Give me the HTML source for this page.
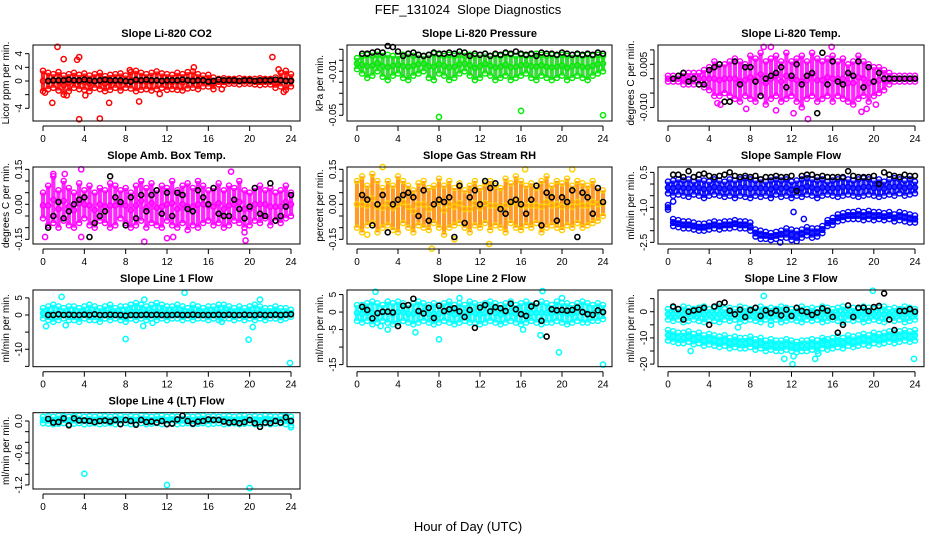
<!DOCTYPE html>
<html><head><meta charset="utf-8"><style>
html,body{margin:0;padding:0;background:#fff;}
svg{display:block;font-family:"Liberation Sans",sans-serif;}
</style></head><body>
<svg id="chart" width="936" height="540" viewBox="0 0 936 540">
<text x="468" y="14" text-anchor="middle" font-size="13">FEF_131024&#160; Slope Diagnostics</text>
<text x="468" y="531" text-anchor="middle" font-size="13">Hour of Day (UTC)</text>
</svg>
<script>
const bandHours=[0,0.5,1,1.5,2,2.5,3,3.5,4,4.5,5,5.5,6,6.5,7,7.5,8,8.5,9,9.5,10,10.5,11,11.5,12,12.5,13,13.5,14,14.5,15,15.5,16,16.5,17,17.5,18,18.5,19,19.5,20,20.5,21,21.5,22,22.5,23,23.5,24];
const blackHours=[0.5,1,1.5,2,2.5,3,3.5,4,4.5,5,5.5,6,6.5,7,7.5,8,8.5,9,9.5,10,10.5,11,11.5,12,12.5,13,13.5,14,14.5,15,15.5,16,16.5,17,17.5,18,18.5,19,19.5,20,20.5,21,21.5,22,22.5,23,23.5,24];
const xTicks=[0,4,8,12,16,20,24];

const co2Hi=[1.5,1.2,1.0,1.3,0.8,1.0,1.2,0.9,1.1,0.8,1.0,1.2,0.7,0.9,1.0,1.1,0.8,1.3,1.5,1.2,1.0,1.2,1.4,1.1,1.0,0.9,1.2,1.0,1.3,1.4,1.0,0.8,0.9,0.5,0.3,0.4,0.3,0.3,0.4,0.3,0.3,0.3,0.4,0.3,0.3,0.5,1.2,1.5,1.0];
const co2Lo=[-1.5,-1.2,-1.0,-1.4,-2.0,-1.5,-1.0,-1.2,-1.3,-1.5,-1.0,-1.2,-1.5,-1.3,-1.0,-1.4,-1.0,-1.1,-1.5,-1.3,-1.2,-1.4,-1.2,-1.0,-1.3,-1.2,-1.3,-1.4,-1.1,-1.0,-1.2,-0.8,-0.8,-1.2,-0.5,-0.6,-0.4,-0.4,-0.5,-0.4,-0.4,-0.5,-0.6,-0.5,-0.5,-1.0,-0.8,-1.3,-0.8];
const co2OutH=[1.4,0.2,0.9,3.5,5.5,6.4,9.3,4.1,3.3,3.5,2.0,14.6,22.2,23.3,22.8,8.4,11.3,17.3,2.3];
const co2OutV=[5,-1.7,-3.2,-5.6,-5.5,-3.2,-3,-2.1,3.1,3.5,3.2,2,3.5,-1.6,1.7,1.6,-1.9,-1.2,-2.1];
const co2Black=[0,0.1,0.1,0.1,0.2,0.1,0.1,0.2,0.1,0,0.1,0.2,0.1,0.1,0.1,0,-0.1,0.2,0.1,0.2,0.1,0.1,0,0.1,0.1,0.1,0.2,0.1,0,0.1,0.1,-0.1,0,0.2,0.1,0.1,0.1,0,0.1,0.1,0,0.1,0.1,0.1,0.2,0.1,0,0];

const presHi=[0.002,0.004,0.005,0.004,0.005,0.004,0.005,0.004,0.004,0.005,0.006,0.004,0.005,0.004,0.005,0.006,0.005,0.004,0.005,0.004,0.005,0.004,0.005,0.004,0.005,0.006,0.004,0.005,0.004,0.006,0.005,0.004,0.005,0.004,0.005,0.006,0.005,0.004,0.005,0.004,0.005,0.004,0.005,0.005,0.004,0.005,0.004,0.005,0.004];
const presLo=[-0.008,-0.012,-0.016,-0.014,-0.010,-0.015,-0.018,-0.014,-0.012,-0.016,-0.018,-0.014,-0.012,-0.010,-0.016,-0.018,-0.012,-0.014,-0.018,-0.016,-0.012,-0.010,-0.014,-0.018,-0.016,-0.012,-0.014,-0.018,-0.016,-0.014,-0.018,-0.016,-0.014,-0.012,-0.016,-0.018,-0.014,-0.016,-0.018,-0.016,-0.014,-0.018,-0.016,-0.014,-0.016,-0.018,-0.014,-0.012,-0.010];
const presOutH=[8,16,24];
const presOutV=[-0.0515,-0.046,-0.05];
const presBlack=[0.006,0.006,0.007,0.008,0.007,0.013,0.012,0.008,0.004,0.006,0.007,0.005,0.004,0.005,0.007,0.006,0.006,0.007,0.006,0.008,0.007,0.004,0.006,0.005,0.006,0.004,0.006,0.005,0.007,0.006,0.008,0.006,0.005,0.006,0.004,0.007,0.006,0.006,0.005,0.007,0.006,0.005,0.006,0.005,0.006,0.005,0.007,0.006];

const tempHi=[0.001,0.001,0.001,0.002,0.002,0.002,0.002,0.003,0.004,0.006,0.005,0.005,0.006,0.007,0.006,0.005,0.008,0.007,0.009,0.006,0.007,0.008,0.006,0.009,0.006,0.007,0.008,0.006,0.009,0.007,0.006,0.007,0.008,0.006,0.007,0.005,0.006,0.008,0.006,0.005,0.004,0.004,0.003,0.002,0.001,0.001,0.001,0.001,0.001];
const tempLo=[-0.001,-0.001,-0.001,-0.002,-0.002,-0.002,-0.002,-0.003,-0.004,-0.006,-0.006,-0.005,-0.006,-0.007,-0.008,-0.006,-0.007,-0.008,-0.006,-0.009,-0.007,-0.006,-0.008,-0.007,-0.006,-0.008,-0.010,-0.007,-0.006,-0.008,-0.007,-0.006,-0.008,-0.006,-0.007,-0.008,-0.009,-0.007,-0.006,-0.008,-0.006,-0.005,-0.004,-0.002,-0.001,-0.001,-0.001,-0.001,-0.001];
const tempOutH=[9.3,10,13.6,12.2,4.8,7.6,18.8,19.3,15.9,20.2,5.1,10.5];
const tempOutV=[0.011,0.011,-0.014,-0.012,-0.0085,-0.0105,-0.0115,-0.0105,0.011,-0.009,-0.009,-0.011];
const tempBlack=[0,0.001,0.002,-0.001,0,-0.002,-0.002,0.003,0.004,0.005,-0.008,-0.008,0.006,-0.002,0.004,0.004,-0.001,-0.006,0,0.001,0.002,0.004,-0.003,0.001,0.005,-0.002,0.001,0.002,-0.012,0.009,-0.002,0.006,-0.001,-0.002,0.002,0.001,0.006,-0.003,0.004,-0.001,0.002,0,0,0,0,0,0,0];

const ambHi=[0.05,0.08,0.12,0.06,0.1,0.07,0.05,0.09,0.06,0.08,0.05,0.07,0.06,0.09,0.08,0.06,0.07,0.05,0.08,0.1,0.07,0.09,0.06,0.08,0.07,0.1,0.06,0.08,0.09,0.07,0.1,0.08,0.06,0.07,0.09,0.06,0.08,0.07,0.1,0.06,0.05,0.07,0.08,0.06,0.07,0.05,0.06,0.08,0.05];
const ambLo=[-0.06,-0.09,-0.08,-0.1,-0.07,-0.09,-0.1,-0.08,-0.06,-0.09,-0.1,-0.07,-0.08,-0.1,-0.09,-0.06,-0.08,-0.1,-0.09,-0.07,-0.1,-0.08,-0.09,-0.1,-0.07,-0.09,-0.1,-0.08,-0.11,-0.09,-0.1,-0.08,-0.07,-0.09,-0.08,-0.1,-0.09,-0.07,-0.08,-0.1,-0.09,-0.07,-0.08,-0.06,-0.09,-0.07,-0.08,-0.06,-0.05];
const ambOutH=[0.2,1,2.1,3.7,9.8,12,12.6,19.6,19.5,3.7,18.2];
const ambOutV=[-0.14,0.13,0.13,0.15,-0.16,-0.145,-0.14,-0.155,-0.12,-0.14,0.14];
const ambBlack=[-0.1,-0.05,0.01,-0.06,-0.03,0,0.02,0.03,-0.14,-0.08,-0.05,-0.03,0.12,0.03,0.01,-0.09,0.03,-0.06,0.04,-0.03,0.04,0.06,-0.04,0.05,-0.05,0.05,0.04,-0.02,-0.03,0.06,0.03,0,0.07,-0.04,-0.05,-0.05,0.02,-0.02,-0.06,-0.01,0.07,-0.04,-0.05,0.09,-0.07,-0.05,-0.01,0.04];

const rhHi=[0.1,0.12,0.08,0.13,0.1,0.07,0.1,0.08,0.12,0.1,0.08,0.06,0.09,0.1,0.07,0.08,0.11,0.08,0.1,0.07,0.09,0.06,0.08,0.1,0.07,0.09,0.1,0.08,0.07,0.11,0.09,0.12,0.1,0.08,0.09,0.07,0.1,0.12,0.08,0.1,0.09,0.11,0.08,0.1,0.09,0.08,0.1,0.07,0.06];
const rhLo=[-0.1,-0.12,-0.09,-0.08,-0.12,-0.1,-0.09,-0.11,-0.12,-0.08,-0.1,-0.12,-0.09,-0.1,-0.11,-0.08,-0.1,-0.13,-0.1,-0.09,-0.08,-0.1,-0.12,-0.09,-0.1,-0.08,-0.11,-0.09,-0.1,-0.12,-0.08,-0.1,-0.11,-0.09,-0.1,-0.08,-0.12,-0.1,-0.09,-0.1,-0.11,-0.09,-0.1,-0.08,-0.1,-0.09,-0.08,-0.07,-0.05];
const rhOutH=[12.9,7.3,16.4,2.5,1,9.5,21];
const rhOutV=[-0.17,-0.19,0.15,0.16,-0.13,-0.15,0.15];
const rhBlack=[0.04,0.02,-0.09,0,0.04,-0.12,0,0.02,0.04,0.05,0.03,-0.05,0.06,-0.07,0,0.02,0.01,0.03,-0.14,0.08,-0.08,0.03,0.06,0,0.1,0.07,0.09,-0.02,-0.04,0.01,0.02,0,-0.04,0.02,0.08,-0.09,0.05,0.03,-0.07,0.03,0.01,0.06,-0.14,0.05,0.03,-0.04,0.07,0.01];

const sfHi=[0.1,0.15,0.2,0.15,0.2,0.1,0.2,0.15,0.1,0.2,0.15,0.1,0.2,0.15,0.2,0.25,0.2,0.15,0.2,0.1,0.15,0.2,0.15,0.2,0.1,0.15,0.2,0.25,0.2,0.15,0.2,0.1,0.15,0.2,0.25,0.2,0.15,0.2,0.25,0.2,0.15,0.2,0.1,0.2,0.25,0.2,0.15,0.2,0.1];
const sfLo=[-0.4,-0.5,-0.45,-0.5,-0.55,-0.45,-0.5,-0.6,-0.5,-0.45,-0.5,-0.55,-0.5,-0.6,-0.5,-0.55,-0.6,-0.5,-0.55,-0.5,-0.6,-0.45,-0.55,-0.5,-0.6,-0.5,-0.55,-0.45,-0.5,-0.6,-0.5,-0.45,-0.5,-0.55,-0.5,-0.45,-0.5,-0.55,-0.5,-0.45,-0.5,-0.55,-0.5,-0.45,-0.5,-0.4,-0.5,-0.45,-0.4];
const sf2Hi=[-0.9,-1.5,-1.55,-1.6,-1.6,-1.65,-1.7,-1.7,-1.65,-1.6,-1.65,-1.6,-1.6,-1.55,-1.6,-1.6,-1.65,-1.95,-2.0,-2.05,-2.1,-2.05,-2.0,-1.9,-1.95,-2.0,-1.95,-1.85,-1.9,-1.9,-1.8,-1.55,-1.45,-1.3,-1.25,-1.2,-1.2,-1.15,-1.2,-1.15,-1.2,-1.2,-1.25,-1.2,-1.3,-1.2,-1.25,-1.3,-1.35];
const sf2Lo=[-1.1,-1.8,-1.85,-1.9,-1.9,-1.95,-2.0,-2.0,-1.95,-1.9,-1.95,-1.9,-1.9,-1.85,-1.9,-1.9,-2.0,-2.25,-2.35,-2.35,-2.4,-2.35,-2.3,-2.3,-2.4,-2.45,-2.3,-2.2,-2.3,-2.25,-2.1,-1.8,-1.75,-1.6,-1.55,-1.5,-1.5,-1.5,-1.55,-1.5,-1.55,-1.5,-1.55,-1.5,-1.6,-1.55,-1.6,-1.65,-1.65];
const sfOutH=[0.5,12.2,13.2,10.9];
const sfOutV=[-0.75,-1.2,-1.5,-2.5];
const sfBlack=[0.4,0.4,0.3,0.55,0.3,0.4,0.45,0.35,0.3,0.35,0.4,0.5,0.35,0.3,0.35,0.3,0.35,0.2,0.3,0.3,0.35,0.3,0.3,0.35,-0.3,0.35,0.4,0.4,0.3,0.35,0.3,0.3,0.3,0.3,0.55,0.35,0.3,0.3,0.3,0.35,0,0.5,0.4,0.35,0.3,0.4,0.35,0.35];

const l1Hi=[2,2.5,3,2.5,2,2.5,2.5,2,2.5,3,2.5,2,2.5,3,2,2.5,2.5,3,3.5,3,2.5,3,3.5,3,2.5,2.5,3,2.5,2,3,2.5,2,2.5,2.5,3,3,2.5,2,2.5,2,2.5,3,2.5,2,2,2.5,2,2,1.5];
const l1Lo=[-1,-1.5,-2,-1.5,-1,-1.5,-1.5,-2,-1,-1.5,-1.5,-2,-1,-1.5,-1,-1.5,-2,-1,-1.5,-1,-1.5,-1,-1.5,-1,-1.5,-1,-1,-1.5,-1,-1.5,-1,-1,-1.5,-1,-1.5,-1,-1,-1.5,-1,-1.5,-1,-1.5,-1,-1.5,-1,-1,-1.5,-1,-0.5];
const l1OutH=[0.3,1.8,8,9.7,10.6,13.7,17.3,19.9,20.3,23.9,2.2,9.8,21];
const l1OutV=[-3.3,5.3,-7,-3.2,-2.3,6.5,-2,-7.2,-3.5,-14,-3,4.5,4.5];
const l1Black=[0,0,0.2,0,0.1,0,0,0.1,0,0.2,0,0,0.1,0,0,-0.2,0,0,0,0.1,0,0.1,0,0,0,0.1,0,0,0.1,0,0,0,0,0.1,0,0.1,0,0,0.1,0,0,0.1,0,0,0.1,0,0.1,0.2];

const l2Hi=[2,2,2.5,3,2.5,2,3,2.5,3,2.5,2,2.5,3,2.5,2,2.5,2,2.5,3,2,2.5,2,3,2.5,2,2.5,3,2.5,2,2.5,3,2,2.5,3,2,2.5,3,2.5,2,3,2.5,2.5,2,2.5,3,2.5,2,2.5,2];
const l2Lo=[-2.5,-3,-2.5,-3.5,-3,-2.5,-3,-3.5,-3,-2.5,-3,-3.5,-3,-2.5,-3,-3.5,-3,-2.5,-3,-3.5,-3,-2.5,-3,-3,-3.5,-3,-2.5,-3,-3.5,-3,-2.5,-3,-3.5,-3,-2.5,-3,-3.5,-3,-3,-2.5,-3,-3.5,-3,-2.5,-3,-3,-2.5,-2.5,-2];
const l2OutH=[1.8,3,5.7,8,16.2,17.9,18.1,19.7,24,2.3,10,20];
const l2OutV=[5.8,-5,-5.8,-7.8,-5,-6.6,6,-11.5,-15,-4,4,4];
const l2Black=[1.5,0.6,-1.8,-0.3,0.1,0.1,-0.1,-4,1.8,2,3.8,0.3,-0.4,1.2,-1.7,1.8,0.3,0.8,1.1,0.2,-1.4,0.6,-4.5,1.3,2,0.2,1.4,1.1,0.3,2.4,0.8,-0.6,-1.1,1.6,2.5,-2.5,-7,0.8,0.5,0.6,0.4,0.6,1.3,0,-0.6,-0.8,0.5,0];

const l3Hi=[1,1.5,1,2,1.5,1,1.5,2,1,1.5,2,1,1.5,1,2,1.5,1,1.5,2,1,1.5,1,2,1.5,1,1.5,2,1,1.5,1,2,1.5,1,1.5,2,1,1.5,1,2,1.5,1,1.5,2,1,1.5,1,2,1.5,1];
const l3Lo=[-3,-3.5,-3,-4,-3.5,-3,-3.5,-4,-3,-3.5,-4,-3,-3.5,-3,-4,-3.5,-3,-3.5,-4,-3,-3.5,-3,-4,-3.5,-3,-3.5,-4,-3,-3.5,-3,-4,-3.5,-3,-3.5,-4,-3,-3.5,-3,-4,-3.5,-3,-3.5,-4,-3,-3.5,-3,-4,-3.5,-3];
const l3bHi=[-7,-7.5,-8,-8,-7.5,-8.5,-8,-9,-8.5,-9,-9.5,-9,-10,-9.5,-10,-10,-9.5,-10.5,-10,-11,-10.5,-11,-11,-10.5,-11,-11.5,-11,-11,-10.5,-11,-10,-10.5,-10,-9.5,-10,-9,-9.5,-9,-8.5,-9,-8,-8.5,-8,-7.5,-8,-7.5,-7,-7.5,-7];
const l3bLo=[-11,-11.5,-12,-12,-11.5,-12.5,-12,-13,-12.5,-13,-13.5,-13,-14,-13.5,-14,-14,-13.5,-14.5,-14,-15,-14.5,-15,-15,-14.5,-15,-15.5,-15,-15,-14.5,-15,-14,-14.5,-14,-13.5,-14,-13,-13.5,-13,-12.5,-13,-12,-12.5,-12,-11.5,-12,-11.5,-11,-11.5,-11];
const l3OutH=[9.3,10,11.3,12.2,14.3,14.6,15.2,19.9,23.9,12.1,2.2,6.8];
const l3OutV=[6,-5,-18,-17,-18,-16,-11,8,-18,-20,-15,-6];
const l3Black=[2,1,-3,0,0.5,0.8,1.5,-5,2,3,3.5,0.4,-1,0.8,-2,0.6,1.5,-1.6,0.5,-0.5,0.4,-1.4,0.8,-1.6,1.5,0.3,-0.1,-1.2,-0.3,1.3,0.4,-2,-8,-5,2.4,-2,1.5,1.6,0.2,1.8,2.2,7,-3,-7,0.3,0.3,1,0];

const l4Hi=[0.08,0.09,0.08,0.1,0.09,0.08,0.09,0.1,0.08,0.09,0.08,0.1,0.09,0.08,0.09,0.1,0.08,0.09,0.08,0.1,0.09,0.08,0.09,0.1,0.08,0.09,0.08,0.1,0.09,0.08,0.09,0.1,0.08,0.09,0.08,0.1,0.09,0.08,0.09,0.1,0.08,0.09,0.08,0.1,0.09,0.08,0.09,0.1,0.08];
const l4Lo=[-0.04,-0.05,-0.06,-0.05,-0.04,-0.06,-0.05,-0.04,-0.06,-0.05,-0.04,-0.06,-0.05,-0.04,-0.06,-0.05,-0.04,-0.06,-0.05,-0.04,-0.06,-0.05,-0.04,-0.06,-0.05,-0.04,-0.06,-0.05,-0.04,-0.06,-0.05,-0.04,-0.06,-0.05,-0.04,-0.06,-0.05,-0.04,-0.06,-0.05,-0.04,-0.06,-0.05,-0.04,-0.06,-0.05,-0.04,-0.06,-0.08];
const l4OutH=[4,12,20,24];
const l4OutV=[-0.99,-1.2,-1.26,-0.12];
const l4Black=[0.04,-0.03,-0.02,0.05,-0.08,0.05,0.01,0.01,0,-0.02,0,0.01,-0.01,0.02,-0.06,0.02,0,-0.07,0.02,-0.02,-0.01,-0.03,0,-0.06,-0.05,0.03,0.1,0,-0.05,-0.01,0,0.03,0.02,0.02,-0.01,-0.03,-0.02,-0.04,-0.02,0.02,-0.04,-0.11,-0.03,-0.04,0,-0.03,0.07,0];

const colL=[33,347,658], colR=[300,612,924];
const rowT=[45,167,290,412.7], rowB=[121,244,366.7,489];
const panels=[
 {name:'co2',title:'Slope Li-820 CO2',ylab:'Licor ppm per min.',r:0,c:0,ymin:-5.86,ymax:5.27,ticks:[4,2,0,-2,-4],labels:['4','2','0','','-4'],col:'#ff0000',edge:'#ff0000',bands:[[co2Lo,co2Hi]],oh:co2OutH,ov:co2OutV,bk:co2Black},
 {name:'pressure',title:'Slope Li-820 Pressure',ylab:'kPa per min.',r:0,c:1,ymin:-0.0552,ymax:0.0139,ticks:[0.01,0,-0.01,-0.02,-0.03,-0.04,-0.05],labels:['','','-0.01','','','','-0.05'],col:'#1ed01e',edge:'#00ee00',bands:[[presLo,presHi]],oh:presOutH,ov:presOutV,bk:presBlack},
 {name:'li820-temp',title:'Slope Li-820 Temp.',ylab:'degrees C per min.',r:0,c:2,ymin:-0.0147,ymax:0.0117,ticks:[0.01,0.005,0,-0.005,-0.01],labels:['','0.005','','','-0.010'],col:'#ff00ff',edge:'#ff00ff',bands:[[tempLo,tempHi]],oh:tempOutH,ov:tempOutV,bk:tempBlack},
 {name:'amb-box-temp',title:'Slope Amb. Box Temp.',ylab:'degrees C per min.',r:1,c:0,ymin:-0.170,ymax:0.160,ticks:[0.15,0.1,0.05,0,-0.05,-0.1,-0.15],labels:['0.15','','','0.00','','','-0.15'],col:'#ff00ff',edge:'#ff00ff',bands:[[ambLo,ambHi]],oh:ambOutH,ov:ambOutV,bk:ambBlack},
 {name:'gas-stream-rh',title:'Slope Gas Stream RH',ylab:'percent per min.',r:1,c:1,ymin:-0.170,ymax:0.160,ticks:[0.15,0.1,0.05,0,-0.05,-0.1,-0.15],labels:['0.15','','','0.00','','','-0.15'],col:'#ff8800',edge:'#ffd000',bands:[[rhLo,rhHi]],oh:rhOutH,ov:rhOutV,bk:rhBlack},
 {name:'sample-flow',title:'Slope Sample Flow',ylab:'ml/min per min.',r:1,c:2,ymin:-2.57,ymax:0.73,ticks:[0.5,0,-0.5,-1,-1.5,-2,-2.5],labels:['0.5','','','-1.0','','','-2.5'],col:'#0000ff',edge:'#0000ff',bands:[[sfLo,sfHi],[sf2Lo,sf2Hi]],oh:sfOutH,ov:sfOutV,bk:sfBlack},
 {name:'line1-flow',title:'Slope Line 1 Flow',ylab:'ml/min per min.',r:2,c:0,ymin:-15.1,ymax:7.3,ticks:[5,0,-5,-10,-15],labels:['5','0','','-10',''],col:'#00ffff',edge:'#00ffff',bands:[[l1Lo,l1Hi]],oh:l1OutH,ov:l1OutV,bk:l1Black},
 {name:'line2-flow',title:'Slope Line 2 Flow',ylab:'ml/min per min.',r:2,c:1,ymin:-15.6,ymax:6.3,ticks:[5,0,-5,-10,-15],labels:['5','0','-5','','-15'],col:'#00ffff',edge:'#00ffff',bands:[[l2Lo,l2Hi]],oh:l2OutH,ov:l2OutV,bk:l2Black},
 {name:'line3-flow',title:'Slope Line 3 Flow',ylab:'ml/min per min.',r:2,c:2,ymin:-21,ymax:8.3,ticks:[5,0,-5,-10,-15,-20],labels:['','0','','-10','','-20'],col:'#00ffff',edge:'#00ffff',bands:[[l3Lo,l3Hi],[l3bLo,l3bHi]],oh:l3OutH,ov:l3OutV,bk:l3Black},
 {name:'line4-flow',title:'Slope Line 4 (LT) Flow',ylab:'ml/min per min.',r:3,c:0,ymin:-1.276,ymax:0.156,ticks:[0,-0.2,-0.4,-0.6,-0.8,-1.0,-1.2],labels:['0.0','','','-0.6','','','-1.2'],col:'#00ffff',edge:'#00ffff',bands:[[l4Lo,l4Hi]],oh:l4OutH,ov:l4OutV,bk:l4Black}
];
const NS='http://www.w3.org/2000/svg';
const svg=document.getElementById('chart');
function mk(tag,attrs,parent,txt){const e=document.createElementNS(NS,tag);for(const k in attrs)e.setAttribute(k,attrs[k]);if(txt!==undefined)e.textContent=txt;parent.appendChild(e);return e;}
panels.forEach(p=>{
  const L=colL[p.c],R=colR[p.c],T=rowT[p.r],B=rowB[p.r];
  const x0=L+10,x1=R-9;
  const xs=h=>x0+(h/24)*(x1-x0);
  const ys=v=>B-(v-p.ymin)/(p.ymax-p.ymin)*(B-T);
  const g=mk('g',{},svg);
  
  
  const tt=mk('text',{x:(L+R)/2,y:T-8,'text-anchor':'middle','font-size':11,'font-weight':'bold'},g,p.title);
  
  
  const plot=mk('g',{},g);
  
  
  p.bands.forEach(bd=>{
    const lo=bd[0],hi=bd[1];
    bandHours.forEach((h,i)=>{
      const ln=mk('line',{x1:xs(h),x2:xs(h),y1:ys(lo[i]),y2:ys(hi[i]),stroke:p.col,'stroke-width':4.2,'stroke-opacity':0.85},plot);
      
      
      [lo[i],hi[i],(lo[i]+hi[i])/2].forEach(v=>{
        const c=mk('circle',{cx:xs(h),cy:ys(v),r:2.6,fill:'none',stroke:p.edge,'stroke-width':1.4},plot);
        
        
      });
    });
  });
  p.oh.forEach((h,i)=>{
    const c=mk('circle',{cx:xs(h),cy:ys(p.ov[i]),r:2.6,fill:'none',stroke:p.edge,'stroke-width':1.5},plot);
    
    
  });
  blackHours.forEach((h,i)=>{
    const c=mk('circle',{cx:xs(h),cy:ys(p.bk[i]),r:2.5,fill:'none',stroke:'#000','stroke-width':1.6},plot);
    
    
  });
  const box=mk('rect',{x:L,y:T,width:R-L,height:B-T,fill:'none',stroke:'#000','stroke-width':1},g);
  
  
  const xa=mk('g',{},g);
  
  
  mk('line',{x1:xs(0),x2:xs(24),y1:B+5,y2:B+5,stroke:'#000'},xa);
  xTicks.forEach(t=>{
    mk('line',{x1:xs(t),x2:xs(t),y1:B+5,y2:B+10,stroke:'#000'},xa);
    const tl=mk('text',{x:xs(t),y:B+21,'text-anchor':'middle','font-size':10},xa,String(t));
    
    
  });
  const ya=mk('g',{},g);
  
  
  mk('line',{x1:L-4,x2:L-4,y1:ys(p.ticks[0]),y2:ys(p.ticks[p.ticks.length-1]),stroke:'#000'},ya);
  p.ticks.forEach((t,i)=>{
    mk('line',{x1:L-4,x2:L-8,y1:ys(t),y2:ys(t),stroke:'#000'},ya);
    if(p.labels[i]){
      const yl=mk('text',{x:L-11,y:ys(t),'text-anchor':'middle','font-size':10,transform:`rotate(-90 ${L-11} ${ys(t)})`},ya,p.labels[i]);
      
      
    }
  });
  const yt=mk('text',{x:L-24,y:(T+B)/2,'text-anchor':'middle','font-size':10,transform:`rotate(-90 ${L-24} ${(T+B)/2})`},ya,p.ylab);
  
  
});
</script>
</body></html>
